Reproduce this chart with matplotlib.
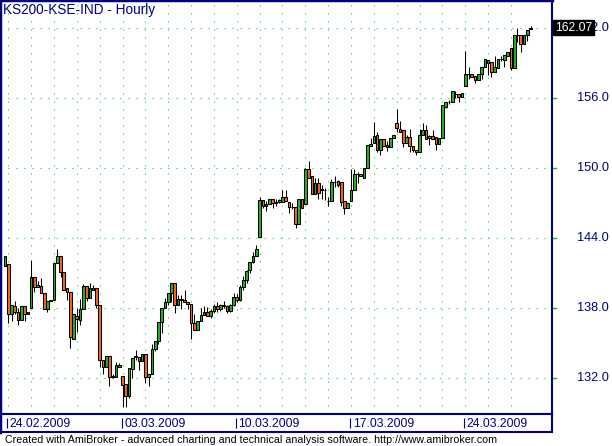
import matplotlib
matplotlib.use("Agg")
import matplotlib.pyplot as plt

# Hourly bars of KS200-KSE-IND (open, high, low, close)
opens = [141.6, 141.8, 137.5, 138.2, 137.7, 137.0, 138.2, 137.5, 138.0, 140.7,
         139.8, 139.9, 139.3, 137.9, 138.6, 138.7, 141.9, 142.5, 141.1, 139.7,
         139.4, 135.4, 137.3, 137.0, 137.9, 139.9, 138.9, 139.6, 139.7, 138.3,
         133.6, 133.0, 133.9, 132.1, 132.1, 133.0, 132.2, 131.5, 130.5, 132.8,
         133.8, 133.8, 133.5, 134.1, 132.1, 132.4, 134.5, 135.2, 136.8, 138.0,
         138.5, 139.3, 140.2, 138.3, 138.7, 138.7, 138.5, 138.4, 136.7, 136.1,
         136.9, 137.4, 137.7, 137.3, 137.8, 138.2, 137.9, 138.3, 138.2, 137.8,
         138.3, 139.0, 138.7, 139.8, 140.4, 141.3, 142.0, 142.5, 144.1, 147.3,
         146.8, 146.9, 147.4, 147.0, 147.1, 147.1, 147.5, 147.1, 146.7, 146.7,
         145.2, 147.4, 146.9, 149.9, 149.3, 147.8, 148.7, 148.1, 148.1, 147.2,
         147.2, 148.85, 148.9, 148.8, 147.2, 146.6, 147.2, 148.1, 149.5, 149.5,
         149.2, 150.0, 151.9, 152.2, 152.9, 151.6, 152.5, 152.0, 151.8, 152.6,
         153.9, 153.4, 153.3, 152.2, 152.7, 151.9, 151.6, 151.4, 152.9, 153.3,
         152.6, 152.8, 152.7, 152.1, 152.6, 155.3, 155.7, 155.7, 156.4, 156.4,
         156.1, 157.1, 158.1, 158.1, 157.9, 157.6, 158.1, 158.7, 159.0, 159.1,
         158.3, 158.6, 159.4, 159.3, 159.6, 160.3, 158.6, 161.4, 161.4, 160.7,
         161.4, 161.95]
highs = [142.5, 141.8, 138.3, 138.6, 138.0, 138.2, 138.2, 137.7, 142.1, 140.7,
         140.3, 140.6, 139.3, 138.6, 138.7, 141.9, 143.1, 142.5, 141.1, 139.7,
         139.4, 137.5, 138.0, 138.8, 140.1, 139.9, 140.2, 140.0, 139.7, 138.3,
         133.6, 133.9, 133.9, 132.4, 133.4, 133.3, 132.2, 131.5, 132.9, 133.7,
         134.4, 133.8, 134.1, 134.1, 132.4, 134.9, 135.2, 136.8, 138.0, 138.9,
         139.3, 140.2, 140.2, 139.1, 139.1, 139.6, 138.5, 138.4, 137.5, 136.9,
         138.0, 138.2, 138.1, 137.9, 138.4, 138.5, 138.4, 138.6, 138.3, 138.4,
         139.3, 139.2, 140.0, 140.8, 141.3, 142.0, 142.8, 143.4, 147.5, 147.3,
         147.2, 147.4, 147.4, 147.4, 147.4, 148.1, 148.1, 147.1, 147.0, 146.7,
         147.4, 147.4, 150.0, 150.6, 149.3, 149.2, 149.15, 148.6, 148.3, 147.5,
         149.1, 149.3, 149.0, 148.8, 147.2, 147.05, 149.9, 149.9, 149.7, 149.5,
         150.0, 152.0, 152.6, 154.0, 153.1, 152.5, 152.5, 152.3, 152.6, 152.9,
         155.1, 154.1, 153.3, 152.9, 153.4, 151.9, 151.6, 153.4, 153.9, 153.7,
         152.9, 153.3, 152.7, 152.6, 155.4, 155.7, 155.9, 156.6, 156.6, 156.4,
         156.5, 160.1, 158.7, 158.1, 157.9, 158.1, 158.7, 159.4, 159.3, 159.1,
         159.6, 159.4, 159.6, 159.7, 160.0, 160.3, 161.4, 162.0, 161.4, 161.4,
         161.9, 162.2]
lows = [141.6, 136.7, 136.9, 137.5, 136.6, 137.0, 136.9, 137.5, 138.0, 139.4,
        139.8, 139.3, 137.9, 137.7, 138.6, 138.7, 141.9, 140.7, 139.6, 138.7,
        134.6, 135.4, 136.0, 136.6, 137.9, 138.6, 138.9, 139.6, 138.0, 133.0,
        132.4, 133.0, 131.3, 132.0, 132.1, 133.0, 129.5, 129.5, 130.3, 132.0,
        133.6, 132.7, 133.5, 131.6, 131.3, 132.4, 134.3, 134.9, 135.9, 138.0,
        138.3, 138.5, 137.6, 138.3, 137.9, 138.5, 137.9, 135.4, 136.1, 136.1,
        136.9, 137.4, 137.3, 137.2, 137.6, 137.7, 137.8, 138.0, 137.6, 137.7,
        138.2, 138.5, 138.6, 139.6, 140.2, 141.0, 141.9, 142.5, 144.1, 146.6,
        146.3, 146.9, 146.6, 146.8, 147.0, 147.1, 147.2, 146.2, 146.5, 144.9,
        145.2, 146.6, 146.9, 149.2, 147.8, 147.8, 147.4, 147.4, 147.3, 146.8,
        147.2, 148.4, 148.4, 146.8, 146.1, 146.6, 147.2, 148.1, 148.7, 149.3,
        149.2, 150.0, 151.9, 152.2, 151.4, 151.1, 151.9, 151.5, 151.8, 152.6,
        153.1, 153.1, 151.8, 152.2, 151.4, 151.4, 151.1, 151.4, 152.9, 152.5,
        152.0, 152.5, 151.6, 152.1, 152.6, 155.2, 155.5, 155.7, 156.0, 155.7,
        156.1, 157.1, 157.65, 157.85, 157.3, 157.6, 157.7, 158.7, 158.0, 157.8,
        158.3, 158.6, 159.2, 158.7, 159.6, 158.4, 158.6, 160.8, 160.0, 160.7,
        160.9, 161.95]
closes = [142.5, 137.5, 138.3, 137.7, 137.0, 138.2, 137.5, 137.7, 140.7, 139.8,
          140.0, 139.3, 137.9, 138.6, 138.7, 141.9, 142.5, 141.1, 139.6, 139.4,
          135.5, 137.5, 137.1, 137.9, 139.9, 138.9, 139.7, 139.7, 138.3, 133.6,
          133.0, 133.9, 132.1, 132.2, 133.1, 133.1, 131.4, 130.5, 132.9, 133.7,
          133.9, 133.5, 134.1, 132.1, 132.4, 134.5, 135.2, 136.8, 138.0, 138.5,
          139.3, 140.2, 138.3, 138.8, 138.8, 138.5, 138.4, 136.7, 136.1, 136.9,
          137.4, 137.7, 137.3, 137.8, 138.2, 137.9, 138.3, 138.2, 137.8, 138.3,
          139.0, 138.7, 139.8, 140.4, 141.2, 142.0, 142.5, 143.1, 147.3, 146.8,
          146.9, 147.4, 147.0, 147.1, 147.3, 147.5, 147.2, 146.7, 146.7, 145.2,
          147.4, 146.6, 149.9, 149.2, 147.8, 148.7, 147.9, 148.2, 148.1, 147.2,
          148.85, 148.85, 148.6, 147.1, 146.6, 147.05, 148.1, 149.5, 149.5, 149.3,
          150.0, 152.0, 152.1, 152.8, 151.6, 152.5, 151.9, 151.8, 152.6, 152.9,
          153.5, 153.1, 152.2, 152.7, 151.9, 151.6, 151.4, 152.9, 153.3, 152.5,
          152.8, 152.5, 152.1, 152.6, 155.4, 155.7, 155.7, 156.6, 156.4, 156.1,
          156.5, 158.1, 158.06, 157.85, 157.6, 158.1, 158.7, 159.4, 159.3, 158.3,
          158.7, 159.4, 159.4, 159.7, 160.0, 158.6, 161.4, 161.4, 160.7, 161.4,
          161.9, 162.07]

# First bar of each labelled week and the label
date_bars = [1, 36, 71, 106, 141]
date_labels = ["24.02.2009", "03.03.2009", "10.03.2009", "17.03.2009", "24.03.2009"]

# Price levels on the right axis
price_ticks = [132, 138, 144, 150, 156, 162]

# Colors
navy = "#000080"
grid_green = "#00c800"
up_color = "#22b422"
down_color = "#ff6414"

W, H = 612, 446
fig = plt.figure(figsize=(W / 100, H / 100), dpi=100)
font = "Liberation Sans"

# Main price panel
ax = fig.add_axes([0, 32 / H, 552 / W, 414 / H])
bars = list(range(len(closes)))
ax.set_xlim(-1.54, 167.57)
ax.set_ylim(128.94, 164.43)

# Dotted grid: one vertical line per day (7 hourly bars), horizontal at price ticks
for b in range(1, len(closes), 7):
    ax.axvline(b, color=grid_green, lw=0.72, linestyle=(0, (1, 7)), zorder=0)
for p in price_ticks:
    ax.axhline(p, color=grid_green, lw=0.72, linestyle=(0, (1, 7)), zorder=0)

# Candles: wicks first, then bodies
ax.vlines(bars, lows, highs, color="black", lw=0.75, zorder=2)
colors = []
for o, c in zip(opens, closes):
    if c > o:
        colors.append(up_color)
    elif c < o:
        colors.append(down_color)
    else:
        colors.append("black")
heights = [c - o for o, c in zip(opens, closes)]
ax.bar(bars, heights, bottom=opens, width=0.82, color=colors,
       edgecolor="black", linewidth=0.75, zorder=3)

ax.set_xticks([])
ax.set_yticks([])
for side in ["left", "top", "right", "bottom"]:
    ax.spines[side].set_color(navy)
ax.spines["left"].set_linewidth(2.5)
ax.spines["top"].set_linewidth(2.5)
ax.spines["right"].set_linewidth(1.5)
ax.spines["bottom"].set_linewidth(1.5)

# Right-hand price labels and small green tick marks
for p in price_ticks:
    ax.plot([1.0, 1.008], [p, p], transform=ax.get_yaxis_transform(),
            color=grid_green, lw=1, clip_on=False)
    ax.text(609 / 552, p, "%.1f" % p, transform=ax.get_yaxis_transform(),
            ha="right", va="center", color=navy, fontsize=9.2, family=font)

# Last price box (it covers part of the top label, as in AmiBroker)
last = closes[-1]
ax.text(555 / 552, last, "%.2f" % last, transform=ax.get_yaxis_transform(),
        ha="left", va="center", color="white", fontsize=8.8, family=font,
        bbox=dict(boxstyle="square,pad=0.15", fc="black", ec="black"))

# Title
ax.text(3 / 552, 1 - 3 / 414, "KS200-KSE-IND - Hourly", transform=ax.transAxes,
        ha="left", va="top", color=navy, fontsize=9.8, family=font)

# Date strip under the chart
dax = fig.add_axes([0, 14 / H, 552 / W, 18 / H])
dax.set_xlim(ax.get_xlim())
dax.set_ylim(0, 1)
dax.set_xticks([])
dax.set_yticks([])
for side in ["left", "top", "right", "bottom"]:
    dax.spines[side].set_color(navy)
    dax.spines[side].set_linewidth(1.5)
dax.spines["left"].set_linewidth(2.5)
dax.vlines([b - 0.3 for b in date_bars], 0.2, 0.8, color=navy, lw=0.8)
for b, lab in zip(date_bars, date_labels):
    dax.text(b + 0.5, 0.45, lab, ha="left", va="center", color=navy,
             fontsize=8.8, family=font)

# Footer
fig.text(5 / W, 6 / H, "Created with AmiBroker - advanced charting and technical "
         "analysis software. http://www.amibroker.com", ha="left", va="center",
         color="black", fontsize=7.65, family=font)

fig.savefig("out.png", dpi=100)
